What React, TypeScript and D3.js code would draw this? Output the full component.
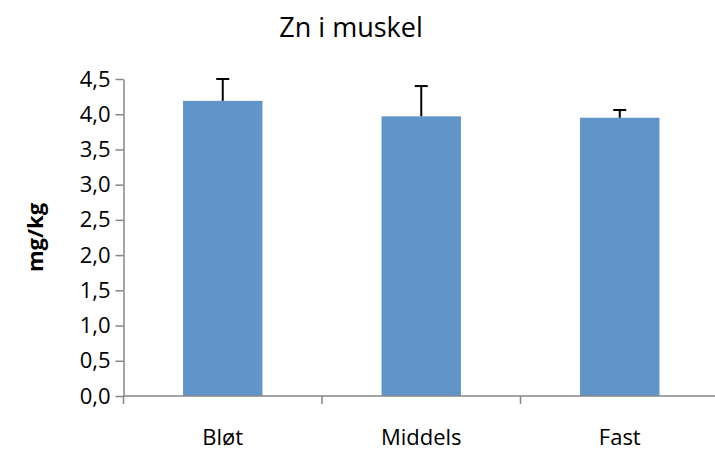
import React, { useEffect, useRef } from 'react';
import * as d3 from 'd3';

const categories = ['Bløt', 'Middels', 'Fast'];
const means = [4.19, 3.97, 3.95];
const errorsUp = [0.31, 0.43, 0.11];
const yTicks = [0, 0.5, 1, 1.5, 2, 2.5, 3, 3.5, 4, 4.5];

export default function App() {
  const svgRef = useRef<SVGSVGElement>(null);

  useEffect(() => {
    if (!svgRef.current) return;
    const svg = d3.select(svgRef.current);
    svg.selectAll('*').remove();

    const width = 715;
    const left = 123.5;
    const right = 719;
    const top = 79;
    const bottom = 396;
    const font = 'Open Sans, Liberation Sans, sans-serif';
    const axisColor = '#868686';

    const x = d3.scaleBand<string>()
      .domain(categories)
      .range([left, right])
      .paddingInner(0.6)
      .paddingOuter(0.3);

    const y = d3.scaleLinear().domain([0, 4.5]).range([bottom, top]);

    // title
    svg.append('text')
      .attr('x', 351)
      .attr('y', 37)
      .attr('text-anchor', 'middle')
      .attr('font-family', font)
      .attr('font-size', '27px')
      .attr('fill', '#000')
      .text('Zn i muskel');

    // y axis title
    svg.append('text')
      .attr('transform', `translate(43,${(top + bottom) / 2}) rotate(-90)`)
      .attr('text-anchor', 'middle')
      .attr('font-family', font)
      .attr('font-size', '22px')
      .attr('font-weight', 'bold')
      .text('mg/kg');

    // bars
    svg.append('g')
      .selectAll('rect')
      .data(categories)
      .enter()
      .append('rect')
      .attr('x', d => x(d)!)
      .attr('width', x.bandwidth())
      .attr('y', (d, i) => y(means[i]))
      .attr('height', (d, i) => y(0) - y(means[i]))
      .attr('fill', '#6195C9');

    // error bars (upper only)
    const err = svg.append('g');
    categories.forEach((c, i) => {
      const cx = x(c)! + x.bandwidth() / 2;
      const yTop = y(means[i] + errorsUp[i]);
      err.append('line')
        .attr('x1', cx).attr('x2', cx)
        .attr('y1', y(means[i])).attr('y2', yTop)
        .attr('stroke', '#000').attr('stroke-width', 2);
      err.append('line')
        .attr('x1', cx - 6.5).attr('x2', cx + 6.5)
        .attr('y1', yTop).attr('y2', yTop)
        .attr('stroke', '#000').attr('stroke-width', 2);
    });

    // y axis
    const yAxis = svg.append('g')
      .attr('transform', `translate(${left},0)`)
      .call(
        d3.axisLeft(y)
          .tickValues(yTicks)
          .tickSize(8)
          .tickSizeOuter(0)
          .tickPadding(5)
          .tickFormat(d => d3.format('.1f')(d as number).replace('.', ','))
      );
    yAxis.select('.domain').attr('stroke', axisColor).attr('stroke-width', 1.5);
    yAxis.selectAll('.tick line').attr('stroke', axisColor).attr('stroke-width', 1.5);
    yAxis.selectAll('.tick text')
      .attr('font-family', font)
      .attr('font-size', '22px')
      .attr('fill', '#000');

    // x axis
    svg.append('line')
      .attr('x1', left).attr('x2', width)
      .attr('y1', bottom).attr('y2', bottom)
      .attr('stroke', axisColor).attr('stroke-width', 1.5);

    const step = x.step();
    const bounds = d3.range(categories.length).map(i => left + i * step);
    svg.append('g')
      .selectAll('line')
      .data(bounds)
      .enter()
      .append('line')
      .attr('x1', d => d).attr('x2', d => d)
      .attr('y1', bottom).attr('y2', bottom + 8)
      .attr('stroke', axisColor).attr('stroke-width', 1.5);

    svg.append('g')
      .selectAll('text')
      .data(categories)
      .enter()
      .append('text')
      .attr('x', d => x(d)! + x.bandwidth() / 2)
      .attr('y', 445)
      .attr('text-anchor', 'middle')
      .attr('font-family', font)
      .attr('font-size', '22px')
      .attr('fill', '#000')
      .text(d => d);
  }, []);

  return (
    <div style={{ position: 'absolute', left: 0, top: 0 }}>
      <svg ref={svgRef} width={715} height={452} style={{ display: 'block' }}></svg>
    </div>
  );
}
